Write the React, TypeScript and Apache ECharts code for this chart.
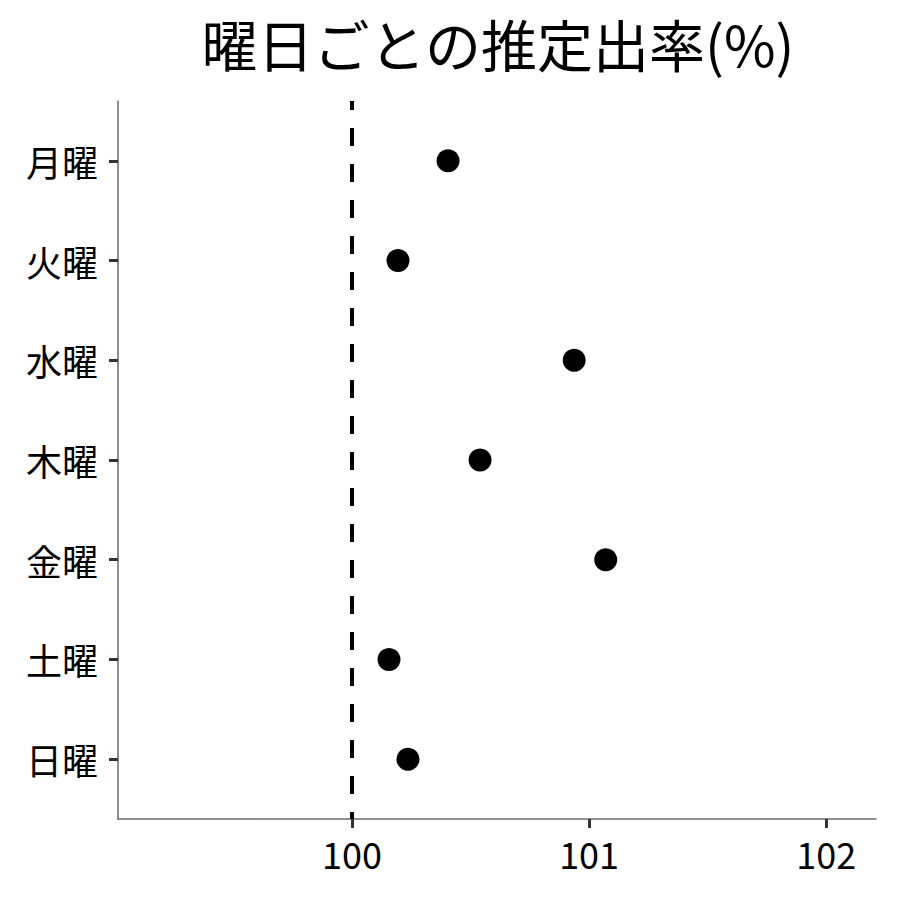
import React, { useEffect, useRef } from "react";
import * as echarts from "echarts";

const TITLE = "曜日ごとの推定出率(%)";
const CATEGORIES = ["月曜", "火曜", "水曜", "木曜", "金曜", "土曜", "日曜"];
const VALUES = [100.405, 100.194, 100.937, 100.54, 101.07, 100.156, 100.236];
const X_TICKS = [100, 101, 102];
const REF_LINE = 100;

const FONT = "'Noto Sans CJK JP', 'Noto Sans', sans-serif";

export default function App() {
  const ref = useRef<HTMLDivElement>(null);
  useEffect(() => {
    if (!ref.current) return;
    const chart = echarts.init(ref.current, null, { renderer: "svg" });
    const yPos = CATEGORIES.map((_, i) => i + 1);
    chart.setOption({
      animation: false,
      backgroundColor: "#ffffff",
      graphic: [
        {
          type: "text",
          x: 498,
          y: 42,
          style: {
            text: TITLE,
            fontSize: 56,
            fontFamily: FONT,
            fill: "#000",
            align: "center",
            verticalAlign: "middle",
          },
        },
      ],
      grid: { left: 118, right: 24, top: 101, bottom: 81, containLabel: false },
      xAxis: {
        type: "value",
        min: 99.013,
        max: 102.21,
        splitLine: { show: false },
        axisLine: { show: true, lineStyle: { color: "#6b6b6b", width: 1.5 } },
        axisTick: {
          show: true,
          length: 9,
          lineStyle: { color: "#333", width: 3 },
          customValues: X_TICKS,
        },
        axisLabel: {
          customValues: X_TICKS,
          fontSize: 36,
          fontFamily: FONT,
          color: "#000",
          margin: 16,
          formatter: (v: number) => String(Math.round(v)),
        },
      },
      yAxis: {
        type: "value",
        min: 0.4,
        max: 7.6,
        inverse: true,
        splitLine: { show: false },
        axisLine: { show: true, lineStyle: { color: "#6b6b6b", width: 1.5 } },
        axisTick: {
          show: true,
          length: 9,
          lineStyle: { color: "#333", width: 3 },
          customValues: yPos,
        },
        axisLabel: {
          customValues: yPos,
          fontSize: 36,
          fontFamily: FONT,
          color: "#000",
          margin: 20,
          formatter: (v: number) => CATEGORIES[Math.round(v) - 1] ?? "",
        },
      },
      series: [
        {
          type: "scatter",
          data: VALUES.map((v, i) => [v, i + 1]),
          symbol: "circle",
          symbolSize: 23,
          itemStyle: { color: "#000", opacity: 1 },
          z: 3,
          markLine: {
            silent: true,
            symbol: "none",
            label: { show: false },
            lineStyle: {
              color: "#000",
              width: 4,
              type: [18, 18],
              dashOffset: 9,
            },
            data: [{ xAxis: REF_LINE }],
          },
        },
      ],
    });
    return () => chart.dispose();
  }, []);
  return (
    <div
      ref={ref}
      style={{ position: "fixed", left: 0, top: 0, width: 900, height: 900 }}
    />
  );
}
